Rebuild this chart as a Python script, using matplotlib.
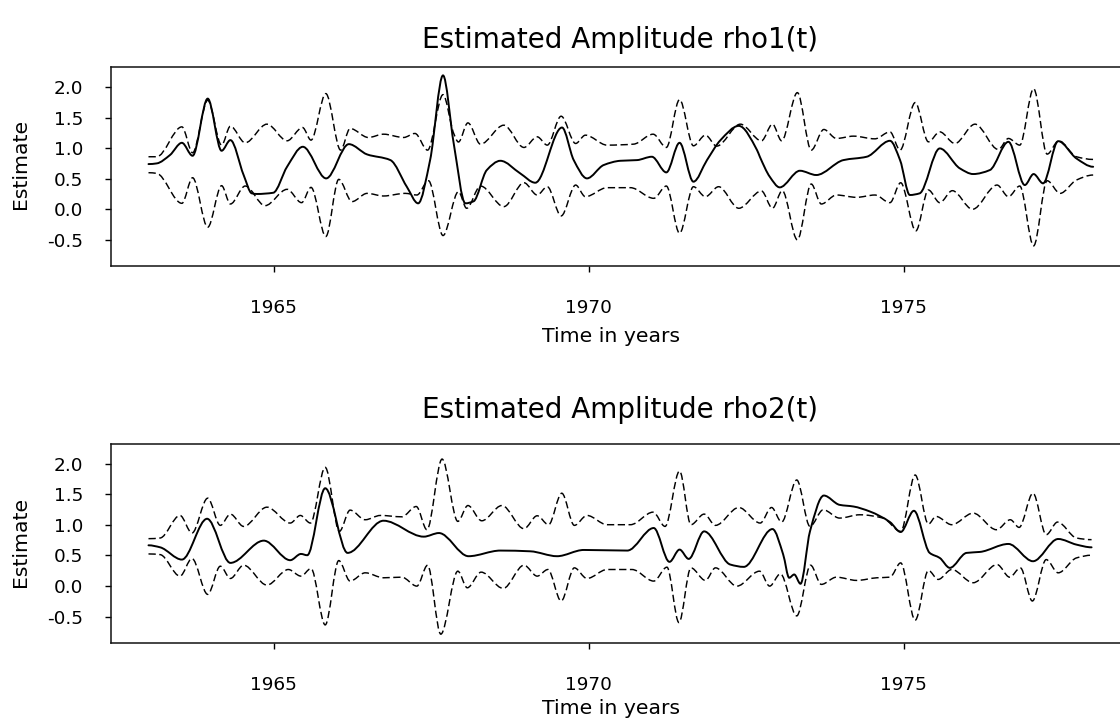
import numpy as np
import matplotlib
matplotlib.use("Agg")
import matplotlib.pyplot as plt
from matplotlib.path import Path
from matplotlib.patches import PathPatch

plt.rcParams['font.family'] = ['DejaVu Sans']

# ---------------- data ----------------
titles = ["Estimated Amplitude rho1(t)", "Estimated Amplitude rho2(t)"]
xlabel_text = "Time in years"
ylabel_text = "Estimate"
xtick_vals = [1965, 1970, 1975]
xtick_labels = ["1965", "1970", "1975"]
ytick_vals = [-0.5, 0.0, 0.5, 1.0, 1.5, 2.0]
ytick_labels = ["-0.5", "0.0", "0.5", "1.0", "1.5", "2.0"]

# rho1: estimate
rho1_t = [1963.01, 1963.14, 1963.35, 1963.54, 1963.71, 1963.95, 1964.17, 1964.31,
          1964.52, 1964.65, 1964.73, 1964.99, 1965.21, 1965.46, 1965.83, 1966.19,
          1966.48, 1966.85, 1967.11, 1967.29, 1967.48, 1967.685, 1967.855, 1968.04,
          1968.17, 1968.38, 1968.595, 1968.91, 1969.15, 1969.574, 1969.76, 1969.97,
          1970.235, 1970.50, 1970.765, 1971.00, 1971.23, 1971.44, 1971.66, 1971.875,
          1972.09, 1972.38, 1972.67, 1972.714, 1972.873, 1973.03, 1973.35, 1973.61,
          1974.04, 1974.41, 1974.78, 1974.94, 1975.095, 1975.25, 1975.57, 1975.89,
          1976.10, 1976.365, 1976.66, 1976.92, 1977.06, 1977.21, 1977.45, 1977.74,
          1978.005]
rho1_est = [0.739, 0.75, 0.886, 1.087, 0.875, 1.81, 0.957, 1.131,
            0.56, 0.26, 0.25, 0.27, 0.696, 1.022, 0.505, 1.065,
            0.897, 0.804, 0.369, 0.097, 0.804, 2.19, 1.076, 0.097,
            0.13, 0.641, 0.793, 0.587, 0.434, 1.337, 0.804, 0.505,
            0.723, 0.793, 0.804, 0.859, 0.603, 1.087, 0.451, 0.804,
            1.131, 1.364, 0.967, 0.859, 0.53, 0.358, 0.63, 0.56,
            0.804, 0.859, 1.12, 0.804, 0.233, 0.26, 0.995, 0.668,
            0.576, 0.641, 1.103, 0.396, 0.576, 0.424, 1.114, 0.831,
            0.695]

# rho1: upper band
rho1_up_t = [1963.01, 1963.14, 1963.54, 1963.71, 1963.95, 1964.17, 1964.31, 1964.545,
             1964.89, 1965.21, 1965.455, 1965.59, 1965.825, 1966.06, 1966.21, 1966.50,
             1966.74, 1967.06, 1967.24, 1967.44, 1967.685, 1967.855, 1967.93, 1968.08,
             1968.28, 1968.65, 1968.97, 1969.18, 1969.34, 1969.56, 1969.79, 1969.945,
             1970.29, 1970.71, 1971.02, 1971.23, 1971.44, 1971.66, 1971.85, 1972.03,
             1972.405, 1972.74, 1972.915, 1973.06, 1973.31, 1973.53, 1973.73, 1973.93,
             1974.20, 1974.54, 1974.78, 1974.94, 1975.18, 1975.39, 1975.57, 1975.81,
             1976.13, 1976.50, 1976.66, 1976.84, 1977.06, 1977.275, 1977.46, 1977.74,
             1978.005]
rho1_up = [0.859, 0.859, 1.348, 0.924, 1.783, 1.049, 1.359, 1.087,
           1.392, 1.12, 1.337, 1.131, 1.892, 0.967, 1.321, 1.174,
           1.228, 1.174, 1.24, 0.967, 1.875, 1.24, 1.10, 1.413,
           1.065, 1.375, 1.011, 1.185, 1.049, 1.522, 1.076, 1.212,
           1.049, 1.065, 1.228, 1.011, 1.794, 1.038, 1.212, 1.033,
           1.392, 1.12, 1.392, 1.12, 1.908, 0.967, 1.305, 1.158,
           1.196, 1.152, 1.266, 0.967, 1.745, 1.103, 1.266, 1.076,
           1.392, 0.978, 1.158, 1.049, 1.973, 0.902, 1.12, 0.859,
           0.815]

# rho1: lower band
rho1_lo_t = [1963.01, 1963.14, 1963.54, 1963.71, 1963.95, 1964.17, 1964.31, 1964.545,
             1964.86, 1965.21, 1965.44, 1965.59, 1965.825, 1966.03, 1966.24, 1966.48,
             1966.74, 1967.085, 1967.27, 1967.455, 1967.685, 1967.93, 1968.06, 1968.28,
             1968.65, 1968.97, 1969.18, 1969.34, 1969.56, 1969.79, 1969.945, 1970.29,
             1970.66, 1971.03, 1971.23, 1971.44, 1971.66, 1971.85, 1972.06, 1972.38,
             1972.74, 1972.915, 1973.07, 1973.31, 1973.53, 1973.69, 1973.93, 1974.25,
             1974.54, 1974.78, 1974.95, 1975.19, 1975.39, 1975.57, 1975.77, 1976.09,
             1976.48, 1976.66, 1976.84, 1977.06, 1977.275, 1977.48, 1977.74, 1978.005]
rho1_lo = [0.598, 0.587, 0.097, 0.516, -0.294, 0.386, 0.086, 0.38,
           0.059, 0.326, 0.108, 0.358, -0.446, 0.489, 0.125, 0.26,
           0.217, 0.26, 0.233, 0.467, -0.43, 0.288, 0.016, 0.38,
           0.043, 0.434, 0.233, 0.369, -0.109, 0.396, 0.206, 0.353,
           0.353, 0.179, 0.38, -0.392, 0.369, 0.206, 0.369, 0.016,
           0.299, 0.016, 0.304, -0.50, 0.413, 0.086, 0.233, 0.195,
           0.233, 0.108, 0.434, -0.354, 0.315, 0.108, 0.304, 0.0,
           0.396, 0.206, 0.38, -0.599, 0.467, 0.26, 0.478, 0.56]

# rho2: estimate
rho2_t = [1963.01, 1963.195, 1963.54, 1963.94, 1964.31, 1964.84, 1965.26, 1965.43,
          1965.53, 1965.815, 1966.17, 1966.74, 1967.38, 1967.62, 1968.09, 1968.595,
          1969.07, 1969.495, 1969.92, 1970.61, 1971.03, 1971.28, 1971.44, 1971.585,
          1971.83, 1972.245, 1972.46, 1972.915, 1973.085, 1973.18, 1973.26, 1973.36,
          1973.51, 1973.73, 1973.98, 1974.20, 1974.46, 1974.78, 1974.95, 1975.16,
          1975.41, 1975.57, 1975.73, 1975.995, 1976.21, 1976.66, 1977.05, 1977.45,
          1977.74, 1977.98]
rho2_est = [0.666, 0.633, 0.433, 1.099, 0.379, 0.742, 0.423, 0.525,
            0.504, 1.597, 0.542, 1.067, 0.807, 0.866, 0.488, 0.58,
            0.568, 0.488, 0.59, 0.58, 0.948, 0.396, 0.596, 0.444,
            0.893, 0.352, 0.314, 0.931, 0.515, 0.136, 0.19, 0.038,
            0.893, 1.478, 1.326, 1.299, 1.218, 1.045, 0.883, 1.229,
            0.542, 0.46, 0.298, 0.542, 0.558, 0.688, 0.406, 0.769,
            0.677, 0.633]

# rho2: upper band
rho2_up_t = [1963.01, 1963.195, 1963.51, 1963.70, 1963.95, 1964.15, 1964.31, 1964.52,
             1964.89, 1965.26, 1965.42, 1965.58, 1965.815, 1966.04, 1966.21, 1966.45,
             1966.69, 1967.03, 1967.26, 1967.43, 1967.67, 1967.92, 1968.08, 1968.30,
             1968.62, 1968.97, 1969.18, 1969.36, 1969.57, 1969.77, 1969.97, 1970.29,
             1970.66, 1971.02, 1971.21, 1971.44, 1971.62, 1971.83, 1972.01, 1972.38,
             1972.72, 1972.90, 1973.06, 1973.30, 1973.51, 1973.72, 1973.98, 1974.30,
             1974.67, 1974.95, 1975.18, 1975.39, 1975.51, 1975.76, 1976.10, 1976.47,
             1976.69, 1976.83, 1977.05, 1977.26, 1977.44, 1977.74, 1977.98]
rho2_up = [0.774, 0.785, 1.153, 0.866, 1.435, 0.991, 1.175, 0.974,
           1.288, 1.029, 1.153, 1.029, 1.938, 0.893, 1.24, 1.083,
           1.153, 1.131, 1.299, 0.92, 2.073, 1.056, 1.315, 1.066,
           1.315, 0.937, 1.148, 1.002, 1.516, 0.991, 1.153, 1.002,
           1.002, 1.207, 0.974, 1.878, 1.002, 1.175, 0.991, 1.283,
           1.029, 1.283, 1.045, 1.732, 0.974, 1.245, 1.11, 1.164,
           1.11, 0.893, 1.813, 1.012, 1.137, 1.002, 1.191, 0.92,
           1.083, 0.958, 1.516, 0.839, 1.045, 0.785, 0.758]

# rho2: lower band
rho2_lo_t = [1963.01, 1963.195, 1963.51, 1963.70, 1963.95, 1964.15, 1964.31, 1964.52,
             1964.89, 1965.23, 1965.43, 1965.59, 1965.815, 1966.03, 1966.21, 1966.45,
             1966.74, 1967.03, 1967.27, 1967.44, 1967.65, 1967.92, 1968.07, 1968.29,
             1968.64, 1968.97, 1969.18, 1969.35, 1969.56, 1969.77, 1969.97, 1970.29,
             1970.685, 1971.03, 1971.24, 1971.43, 1971.62, 1971.85, 1972.01, 1972.35,
             1972.71, 1972.87, 1973.04, 1973.30, 1973.52, 1973.69, 1973.93, 1974.25,
             1974.57, 1974.78, 1974.95, 1975.18, 1975.39, 1975.545, 1975.76, 1976.10,
             1976.48, 1976.68, 1976.85, 1977.04, 1977.26, 1977.45, 1977.74, 1977.98]
rho2_lo = [0.525, 0.514, 0.163, 0.45, -0.135, 0.325, 0.125, 0.341,
           0.017, 0.271, 0.163, 0.287, -0.633, 0.417, 0.082, 0.217,
           0.136, 0.146, 0.0, 0.341, -0.784, 0.244, -0.027, 0.228,
           -0.037, 0.341, 0.163, 0.271, -0.243, 0.298, 0.125, 0.271,
           0.271, 0.082, 0.309, -0.595, 0.298, 0.093, 0.298, 0.0,
           0.244, 0.0, 0.2, -0.486, 0.341, 0.028, 0.146, 0.093,
           0.136, 0.146, 0.379, -0.557, 0.255, 0.109, 0.271, 0.055,
           0.352, 0.146, 0.298, -0.243, 0.433, 0.217, 0.46, 0.504]


# ---------------- drawing helpers ----------------
def smooth_path(x, y):
    """Smooth (shape preserving) Bezier path passing through the read points."""
    x = np.asarray(x, float)
    y = np.asarray(y, float)
    h = np.diff(x)
    d = np.diff(y) / h
    m = np.zeros_like(x)
    for i in range(1, len(x) - 1):
        if d[i - 1] * d[i] > 0:
            w1 = 2 * h[i] + h[i - 1]
            w2 = h[i] + 2 * h[i - 1]
            m[i] = (w1 + w2) / (w1 / d[i - 1] + w2 / d[i])
    verts = [(x[0], y[0])]
    codes = [Path.MOVETO]
    for i in range(len(h)):
        verts += [(x[i] + h[i] / 3, y[i] + m[i] * h[i] / 3),
                  (x[i + 1] - h[i] / 3, y[i + 1] - m[i + 1] * h[i] / 3),
                  (x[i + 1], y[i + 1])]
        codes += [Path.CURVE4] * 3
    return Path(verts, codes)


def draw_curve(ax, x, y, dashed):
    if dashed:
        patch = PathPatch(smooth_path(x, y), fill=False, edgecolor="black",
                          linewidth=1.05, linestyle=(0, (5, 2.4)),
                          capstyle="butt", joinstyle="round")
    else:
        patch = PathPatch(smooth_path(x, y), fill=False, edgecolor="black",
                          linewidth=1.4, linestyle="-",
                          capstyle="round", joinstyle="round")
    ax.add_patch(patch)


W, H = 1120, 721
fig = plt.figure(figsize=(W / 100, H / 100), dpi=100)

left_px = 110.7
right_px = 1130.0
panels = [
    dict(top=67.0, bottom=265.5, title_y=40, tick_y=306, xlabel_y=337, ylabel_y=164,
         t=rho1_t, est=rho1_est, ut=rho1_up_t, up=rho1_up, lt=rho1_lo_t, lo=rho1_lo),
    dict(top=443.5, bottom=642.5, title_y=410, tick_y=683, xlabel_y=708, ylabel_y=542,
         t=rho2_t, est=rho2_est, ut=rho2_up_t, up=rho2_up, lt=rho2_lo_t, lo=rho2_lo),
]

for k, p in enumerate(panels):
    ax = fig.add_axes([left_px / W, 1 - p["bottom"] / H,
                       (right_px - left_px) / W, (p["bottom"] - p["top"]) / H])
    ax.set_xlim(1962.41, 1978.59)
    ax.set_ylim(-0.92, 2.327)

    draw_curve(ax, p["ut"], p["up"], True)
    draw_curve(ax, p["lt"], p["lo"], True)
    draw_curve(ax, p["t"], p["est"], False)

    for s in ax.spines.values():
        s.set_linewidth(1.1)
        s.set_color("#111111")

    ax.set_xticks(xtick_vals)
    ax.set_xticklabels(xtick_labels, fontsize=13.3)
    ax.set_yticks(ytick_vals)
    ax.set_yticklabels(ytick_labels, fontsize=13.3)
    ax.tick_params(axis="x", direction="out", length=4, width=1.0,
                   pad=(p["tick_y"] - 9 - p["bottom"] - 4) * 0.72)
    ax.tick_params(axis="y", direction="out", length=4, width=1.0, pad=15.5)

    ax.set_xlabel(xlabel_text, fontsize=14.7, va="center")
    ax.xaxis.set_label_coords(611 / W, 1 - p["xlabel_y"] / H, transform=fig.transFigure)
    ax.set_ylabel(ylabel_text, fontsize=14.7, va="center")
    ax.yaxis.set_label_coords(21 / W, 1 - p["ylabel_y"] / H, transform=fig.transFigure)

    fig.text(620 / W, 1 - p["title_y"] / H, titles[k], fontsize=20,
             ha="center", va="center")

fig.savefig("out.png", dpi=100)
